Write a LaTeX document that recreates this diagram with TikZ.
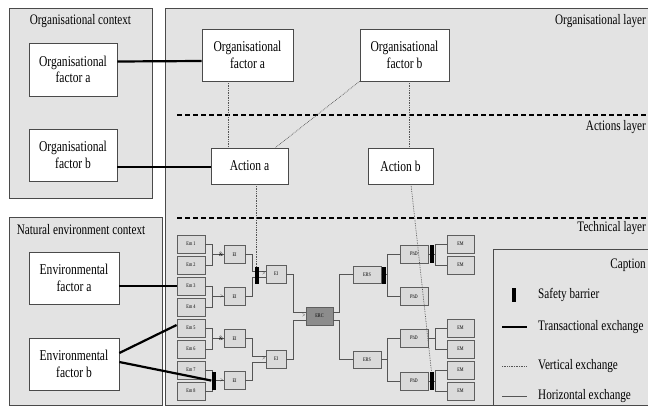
\documentclass[tikz,border=0pt]{standalone}
\usepackage{fontspec}
\setmainfont[FakeStretch=0.77]{Liberation Serif}
\usetikzlibrary{positioning}
\definecolor{bggray}{HTML}{E3E3E3}
\definecolor{framegray}{HTML}{4A4A4A}
\definecolor{boxgray}{HTML}{DADADA}
\definecolor{boxline}{HTML}{5E5E5E}
\definecolor{ercgray}{HTML}{8C8C8C}
\definecolor{linegray}{HTML}{555555}
\begin{document}
\begin{tikzpicture}[x=1pt,y=-1pt,
  panel/.style={draw=framegray,fill=bggray,line width=.8pt},
  bigbox/.style={draw=framegray,fill=white,line width=.7pt,align=center,inner sep=0pt,font=\fontsize{15}{16.5}\selectfont},
  smallbox/.style={draw=boxline,fill=boxgray,line width=.8pt,minimum width=28pt,minimum height=18pt,inner sep=0pt,font=\fontsize{5.5}{5.5}\selectfont},
  titletext/.style={inner sep=0pt,font=\fontsize{14.5}{15}\selectfont},
  gate/.style={inner sep=.3pt,font=\fontsize{6.5}{6.5}\selectfont},
  barrier/.style={fill=black,inner sep=0pt,minimum width=4pt,minimum height=17pt},
  layerline/.style={line width=1.4pt,dash pattern=on 5pt off 3pt},
  tline/.style={line width=2.2pt},
  vline/.style={draw=linegray,line width=.7pt,densely dotted},
  hline/.style={draw=linegray,line width=.9pt}]
\useasboundingbox (0,0) rectangle (648,407);
\clip (0,0) rectangle (648,407);
% panels
\draw[panel] (9,8) rectangle (152,198);
\draw[panel] (9,217) rectangle (162,405);
\draw[panel] (165,8) rectangle (660,405);
\draw[panel] (493,249) rectangle (660,405);
\node[titletext] (orgctx) at (80.5,21) {Organisational context};
\node[titletext] (natctx) at (81,230) {Natural environment context};
\node[titletext,anchor=east] (orglay) at (646,21) {Organisational layer};
\node[titletext,anchor=east] (actlay) at (646,127) {Actions layer};
\node[titletext,anchor=east] (teclay) at (646,228) {Technical layer};
\node[titletext,anchor=east] (captitle) at (646,265) {Caption};
\draw[layerline] (177,115) -- (660,115);
\draw[layerline] (177,218) -- (660,218);
% big boxes
\node[bigbox,minimum width=88pt,minimum height=53pt] (ctxorga) at (73,69.5) {Organisational\\factor a};
\node[bigbox,minimum width=88pt,minimum height=52pt] (ctxorgb) at (73,155) {Organisational\\factor b};
\node[bigbox,minimum width=91pt,minimum height=52pt] (orga) at (247.5,55) {Organisational\\factor a};
\node[bigbox,minimum width=89pt,minimum height=52pt] (orgb) at (404.5,55) {Organisational\\factor b};
\node[bigbox,minimum width=77pt,minimum height=36pt] (acta) at (249.5,166) {Action a};
\node[bigbox,minimum width=65pt,minimum height=36pt] (actb) at (400.5,166) {Action b};
\node[bigbox,minimum width=90pt,minimum height=52pt] (enva) at (74,278) {Environmental\\factor a};
\node[bigbox,minimum width=90pt,minimum height=52pt] (envb) at (74,364) {Environmental\\factor b};
% technical layer
\foreach \i in {1,...,8}
  \node[smallbox] (em\i) at (191,{223+21*\i}) {Em \i};
\node[smallbox,minimum width=21pt] (ei1) at (234.5,254.5) {EI};
\node[smallbox,minimum width=21pt] (ei2) at (234.5,296.5) {EI};
\node[smallbox,minimum width=21pt] (ei4) at (234.5,338.5) {EI};
\node[smallbox,minimum width=21pt] (ei5) at (234.5,380.5) {EI};
\node[smallbox,minimum width=20pt] (ei3) at (276,274) {EI};
\node[smallbox,minimum width=20pt] (ei6) at (276,359) {EI};
\node[smallbox,minimum width=27pt,fill=ercgray] (erc) at (319.5,316) {ERC};
\node[smallbox,minimum height=17pt] (ers1) at (367,274.5) {ERS};
\node[smallbox,minimum height=17pt] (ers2) at (367,359.5) {ERS};
\foreach \i/\y in {1/254,2/296.5,3/338,4/381}
  \node[smallbox] (phd\i) at (414,\y) {PhD};
\foreach \i/\y in {1/244,2/265,3/328,4/349,5/370,6/391}
  \node[smallbox,minimum width=27pt] (emj\i) at (460.5,\y) {EM};
% horizontal exchanges
\foreach \a/\b/\c in {em1/em2/ei1,em3/em4/ei2,em5/em6/ei4,em7/em8/ei5}{
  \draw[hline] (\a.east) -- ++(7,0) |- (\c.west);
  \draw[hline] (\b.east) -- ++(7,0) |- (\c.west);}
\foreach \a/\b/\c in {ei1/ei2/ei3,ei4/ei5/ei6}{
  \draw[hline] (\a.east) -- ++(7,0) |- ([yshift=3pt]\c.west);
  \draw[hline] (\b.east) -- ++(7,0) |- ([yshift=-3pt]\c.west);}
\draw[hline] (ei3.east) -- ++(7,0) |- ([yshift=4pt]erc.west);
\draw[hline] (ei6.east) -- ++(7,0) |- ([yshift=-4pt]erc.west);
\draw[hline] ([yshift=4pt]erc.east) -- ++(6,0) |- (ers1.west);
\draw[hline] ([yshift=-4pt]erc.east) -- ++(6,0) |- (ers2.west);
\foreach \a/\b/\c in {ers1/phd1/phd2,ers2/phd3/phd4}{
  \draw[hline] (\a.east) -- ++(6,0) |- (\b.west);
  \draw[hline] (\a.east) -- ++(6,0) |- (\c.west);}
\foreach \a/\b/\c in {phd1/emj1/emj2,phd3/emj3/emj4,phd4/emj5/emj6}{
  \draw[hline] (\a.east) -- ++(7,0) |- (\b.west);
  \draw[hline] (\a.east) -- ++(7,0) |- (\c.west);}
\node[gate,left=0pt of ei1] (g1) {\&};
\node[gate,left=0pt of ei2] (g2) {>};
\node[gate,left=0pt of ei3] (g3) {>};
\node[gate,left=0pt of ei4] (g4) {\&};
\node[gate,left=0pt of ei5] (g5) {>};
\node[gate,left=0pt of ei6] (g6) {>};
\node[gate,left=0pt of erc] (g7) {>};
% safety barriers
\node[barrier] (bar1) at (256.5,275) {};
\node[barrier,minimum height=18pt] (bar2) at (213.5,381) {};
\node[barrier] (bar3) at (383.5,275) {};
\node[barrier,minimum height=18pt] (bar4) at (431.5,254) {};
\node[barrier,minimum height=18pt] (bar5) at (431.5,381) {};
% transactional exchanges
\draw[tline] ([yshift=8pt]ctxorga.east) -- ([yshift=-6pt]orga.west);
\draw[tline] ([yshift=-12pt]ctxorgb.east) -- ([yshift=-1pt]acta.west);
\draw[tline] (enva.east |- em3.west) -- (em3.west);
\draw[tline] ([yshift=11pt]envb.east) -- ([yshift=3pt]em5.west);
\draw[tline] ([yshift=2pt]envb.east) -- (bar2);
% vertical exchanges
\draw[vline] ([xshift=-19.5pt]orga.south) -- ([xshift=-19.5pt]orga.south |- acta.north);
\draw[vline] (orgb.south west) -- ([xshift=-13pt]acta.north east);
\draw[vline] ([xshift=4.5pt]orgb.south) -- ([xshift=4.5pt]orgb.south |- actb.north);
\draw[vline] (bar1.north |- acta.south) -- (bar1.north);
\draw[vline] ([xshift=10.5pt]actb.south) -- (bar5.north);
% caption
\node[barrier,minimum height=14pt] (capbar) at (514,295) {};
\node[titletext,anchor=west] (capbartxt) at (538,295) {Safety barrier};
\coordinate (capta) at (502,327); \coordinate (captb) at (527,327);
\draw[tline] (capta) -- (captb);
\node[titletext,anchor=west] (capttxt) at (538,327) {Transactional exchange};
\coordinate (capva) at (502,366); \coordinate (capvb) at (527,366);
\draw[vline] (capva) -- (capvb);
\node[titletext,anchor=west] (capvtxt) at (538,366) {Vertical exchange};
\coordinate (capha) at (502,396); \coordinate (caphb) at (527,396);
\draw[hline] (capha) -- (caphb);
\node[titletext,anchor=west] (caphtxt) at (538,396) {Horizontal exchange};
\end{tikzpicture}
\end{document}
